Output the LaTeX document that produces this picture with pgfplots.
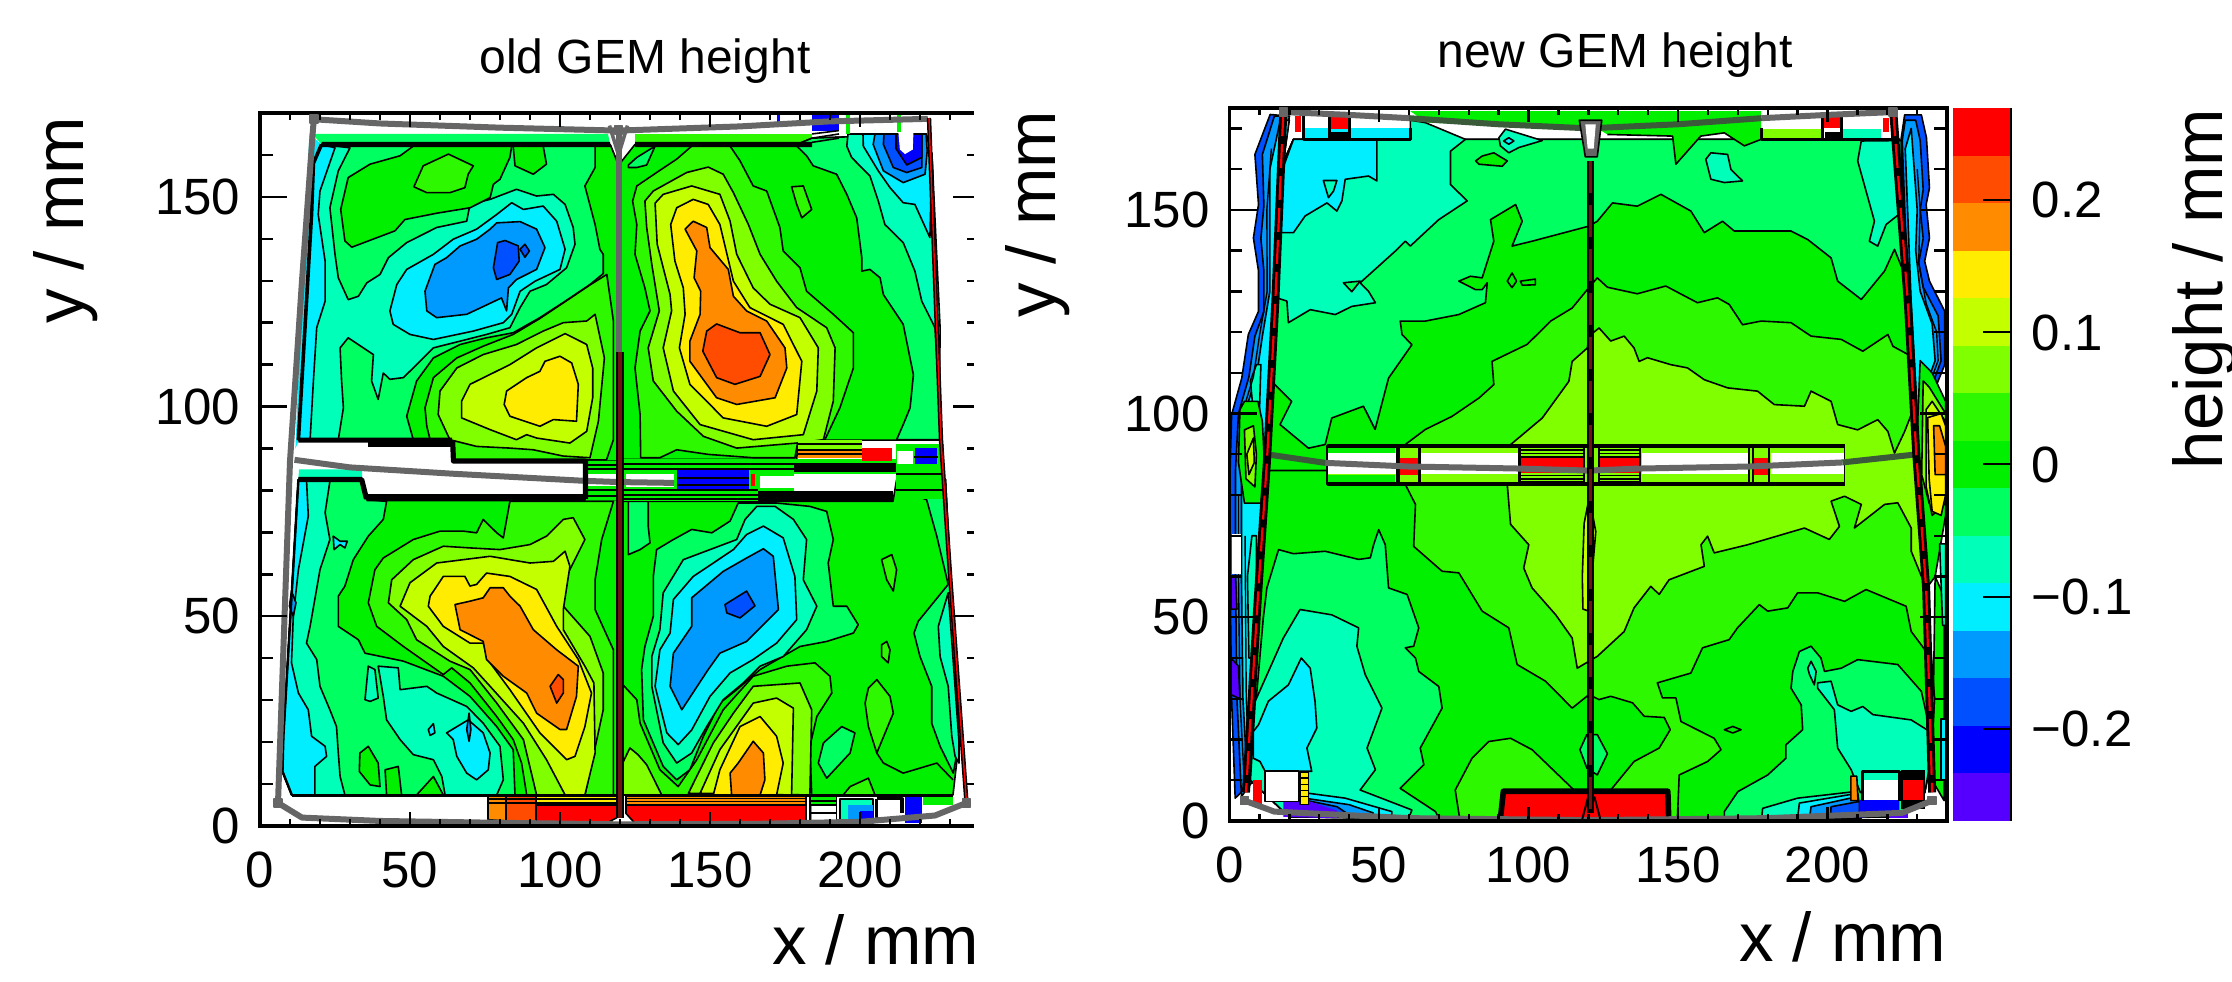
\documentclass[border=0pt]{standalone}
\usepackage{fontspec}
\setmainfont{Liberation Sans}
\usepackage{pgfplots}
\pgfplotsset{compat=1.18}
\definecolor{vi}{HTML}{5500FF}
\definecolor{bb}{HTML}{0000FF}
\definecolor{bc}{HTML}{0050FF}
\definecolor{bd}{HTML}{009AFF}
\definecolor{cy}{HTML}{00EEFF}
\definecolor{aq}{HTML}{00FFB8}
\definecolor{sg}{HTML}{00FF60}
\definecolor{gr}{HTML}{00F000}
\definecolor{lg}{HTML}{2EF800}
\definecolor{li}{HTML}{80FF00}
\definecolor{yg}{HTML}{C4FF00}
\definecolor{ye}{HTML}{FFEC00}
\definecolor{og}{HTML}{FF8C00}
\definecolor{ro}{HTML}{FF4C00}
\definecolor{re}{HTML}{FF0000}
\definecolor{fg}{HTML}{666666}
\definecolor{dr}{HTML}{6A1510}
\definecolor{dg}{HTML}{3A5A3A}
\newcommand\Poly[2]{\addplot[fill=#1,draw=black,line width=.4pt,line join=round] coordinates {#2} --cycle;}
\newcommand\Fil[2]{\addplot[fill=#1,draw=none] coordinates {#2} --cycle;}
\newcommand\Lin[2]{\addplot[#1,line join=round] coordinates {#2};}
\newcommand\fs{\fontsize{12.75}{14}\selectfont}
\newcommand\fl{\fontsize{17.25}{19}\selectfont}
\pgfplotsset{panel/.style={
  scale only axis, anchor=south west, xmin=0, xmax=240, ymin=0,
  axis on top, unbounded coords=jump,
  axis line style={line width=.9pt},
  xtick={0,50,100,150,200}, xticklabels={0,50,100,150,200},
  minor xtick={10,20,30,40,60,70,80,90,110,120,130,140,160,170,180,190,210,220,230},
  minor ytick={10,20,30,40,60,70,80,90,110,120,130,140,160,170},
  ytick={0,50,100,150}, yticklabels={0,50,100,150},
  tick style={black,line width=.6pt},
  x tick style={/pgfplots/major tick length=3.5pt,/pgfplots/minor tick length=1.75pt},
  y tick style={/pgfplots/major tick length=6.75pt,/pgfplots/minor tick length=3.2pt},
  tick label style={font=\fs,inner sep=0pt},
  x tick label style={anchor=north,yshift=-6.25pt},
  y tick label style={anchor=east,xshift=-4.75pt},
  xtick pos=both, ytick pos=both,
}}
\begin{document}
\begin{tikzpicture}[x=0.25pt,y=0.25pt]
\path[use as bounding box] (0,0) rectangle (2232,982);
% ---------------- left panel
\begin{axis}[panel, at={(65pt,39pt)}, width=180pt, height=178.25pt, ymax=170]
\Fil{cy}{(16.5,165)(20.5,162.5)(13,92)(11.8,90)(15,145)}
\Fil{sg}{(17.5,165)(116,165)(116.7,162.5)(20.5,162.5)}
\Fil{aq}{(13,85)(34,85)(34,82.6)(12.8,82.6)}
\Poly{sg}{(20.5,162.5)(116.7,162.5)(119.4,157.8)(119.4,87)(64.4,87)(63.9,92.1)(12.8,92.1)(15.5,125)(17.2,146)(17.8,157.8)}
\Poly{aq}{(30,161.7)(26.1,156.2)(23.3,147.4)(25,136.3)(26.1,130.7)(29.4,125.5)(32.8,126.3)(35.6,129.5)(40,131.5)(42.8,135.5)(48.9,139.1)(58.9,142.7)(68.9,144.2)(70,148.2)(76.7,149.4)(85.5,151.8)(92.2,150.2)(97.8,150.6)(101.7,148.2)(104.4,142.7)(105,138.7)(102.2,133.1)(95.5,129.1)(90,127.5)(86.7,123.6)(83.3,118.8)(75.5,117.2)(66.7,115.6)(57.8,114)(52.2,110)(47.8,106.9)(43.3,106.5)(41.1,108)(39.4,101.7)(37.2,106.1)(37.8,112.4)(29.4,116.4)(26.7,114)(27.2,106.1)(27.8,99.7)(26.1,92.1)(12.8,92.1)(15.5,125)(17.2,146)(17.8,157.8)(20.5,162.5)}
\Poly{cy}{(25,161.7)(20,151.4)(19.4,145.8)(21.7,134.7)(21.7,125.1)(18.9,118.8)(17.8,106.1)(16.7,92.1)(12.8,92.1)(15.5,125)(17.2,146)(17.8,157.8)(20.5,162.5)}
\Poly{gr}{(83.9,162.1)(83.3,159.4)(80,154.2)(77.8,153)(76.7,149.8)(70,147.4)(58.9,146.1)(48.3,144.6)(45,141.9)(30.6,138)(28.3,139.5)(26.9,147)(29.4,154.6)(36.7,157.8)(46.7,159.8)(51.1,162.1)}
\Poly{lg}{(51.3,152.4)(54.4,157.4)(62.8,160.2)(71.1,157.4)(69.4,155.4)(68.3,152.2)(63.3,151)(55.6,151)}
\Poly{gr}{(84.4,162.1)(85,157.4)(91.1,155.4)(95.5,157.8)(94.4,162.1)}
\Poly{gr}{(111.7,162.4)(111.7,157)(108.3,152.6)(111.7,143.4)(113.3,137.5)(114.4,136.3)(114.4,131.7)(110,129.1)(101.7,125.1)(93.3,121.2)(84.4,117.6)(75.5,116.4)(66.7,114.8)(57.8,111.6)(52.2,106.1)(48.9,97.7)(51.1,92.1)(63.9,92.1)(64.4,87)(119.4,87)(119.4,157.8)(116.7,162.5)}
\Poly{lg}{(115.6,131.5)(110,129)(101.7,125)(93.3,121)(84.4,117.2)(74.4,114.4)(65.6,111.6)(57.8,106.9)(55,99.7)(55.6,95.3)(56.7,92.1)(63.9,92.1)(64.4,87.3)(115.5,87.3)(117.8,92.1)(117.8,120.4)}
\Poly{li}{(111.7,122)(108.9,120.4)(101.1,120)(94.4,118)(85.5,114.8)(74.4,112.4)(65.6,109.2)(60,103.7)(59.4,98.1)(63.3,92.1)(72.2,90.5)(83.3,90.1)(91.1,89.7)(101.1,88.2)(110,87.8)(112.8,96.5)(114.8,111.6)}
\Poly{yg}{(101.7,117.4)(92.2,114)(83.3,110)(70,105.3)(67.2,101.3)(67.2,97.3)(76.7,94.5)(85.5,92.1)(88.9,93.3)(92.2,92.5)(103.3,91.3)(108.9,94.1)(110.9,102.1)(110.9,109.2)(108.9,114.8)}
\Poly{ye}{(100,112)(95,110.8)(93.3,108.4)(88.9,106.9)(82.2,103.7)(81.4,100.5)(83.3,97.7)(93.3,95.3)(97.8,96.9)(105.5,96.5)(106.1,105.3)(103.9,110.4)}
\Poly{cy}{(43.3,122.8)(45.6,129.1)(48.9,132.7)(57.8,136.3)(64.4,139.9)(72.2,142.3)(78.9,145.8)(83.9,148.6)(87.8,147)(94.4,147.8)(98.9,144.2)(101.7,137.5)(100,132.7)(91.7,129.9)(86.7,127.5)(83.9,122)(81.1,120)(71.1,118)(57.8,116)(50,117.2)(44.4,119.6)}
\Poly{bd}{(55,127.5)(58.3,133.9)(62.2,135.5)(66.7,138.3)(72.2,139.9)(76.7,142.3)(78.9,143.8)(86.7,144.1)(92.2,142.3)(95,137.9)(92.2,132.7)(85.5,130.3)(82.8,128.3)(82.2,122.8)(80.5,125.9)(68.9,122)(58.9,121.2)(55.6,122.8)}
\Poly{bc}{(79.2,139.1)(81.7,139.6)(86.1,138.3)(86.4,134.7)(83.3,131.5)(78.9,130.3)(77.8,133.1)}
\Poly{bc}{(86.7,137.5)(88.3,138.7)(89.8,137.1)(88.3,135.6)}
% top right quadrant
\Fil{lg}{(125,165)(184,165)(184,162.5)(125,162.5)}
\Poly{gr}{(120,158)(125,162.5)(179,162.5)(184,164)(222,165)(224,160)(227,92)(179.4,92)(178.9,87.4)(120,87.4)}
\Poly{sg}{(122.8,157.6)(125.6,159.4)(131.7,162.1)(128.9,157.6)(125.6,157)(122.8,157)}
\Poly{sg}{(178.9,162.1)(182.2,159.8)(184.4,157.4)(192.2,155.4)(195.6,150.6)(198.9,145)(200.6,135.5)(200.6,132.3)(203.3,132.7)(206.7,130.7)(207.8,126.7)(214.4,119.6)(217.8,107.6)(216.7,99.7)(214.4,95.7)(212.2,92.1)(226.7,92.1)(224,160)(222,165)(184,164)(179,162.5)}
\Poly{aq}{(195.6,162.1)(197.2,159.4)(203.3,155)(206.1,149)(208.3,143.4)(214.4,139.1)(218.3,132.3)(220.6,125.1)(225,118.8)(226.5,100)(226.7,118.8)(224,160)(222,165)(196,165)}
\Poly{cy}{(201.1,162.1)(206.1,156.2)(210,152.2)(214.4,148.6)(218.3,148.2)(223.3,140.3)(224,160)(222,165)(201,165)}
\Poly{bd}{(204.4,162.5)(207.8,156.2)(214.4,153.4)(221.7,155.4)(222.4,161)(222,165)(205,165)}
\Poly{bc}{(207.8,162.5)(211.1,157)(215.6,155.8)(220.6,157)(220.6,165)(208,165)}
\Poly{bb}{(212,161.5)(215.6,157.6)(220.6,159.4)(220.6,165)(212,165)}
\Fil{white}{(212.8,165.3)(213.3,161.3)(215,160.2)(217.6,161.3)(217.8,165.3)}
\Poly{lg}{(177.2,152.4)(181.1,152.6)(183.9,147)(180.6,145)(178.9,148.2)}
\Poly{lg}{(143.9,162.1)(138.9,159)(132.2,155.8)(125.6,152.6)(124.2,149)(125.6,143.4)(125,136.3)(128.3,128.3)(130,122.8)(126.7,118)(125,109.2)(126.7,98.1)(126.9,87.8)(133.3,87.8)(138.9,89.7)(149.4,88.6)(164.4,87.8)(178.3,87.8)(179.4,92.1)(188.3,92.1)(193.3,99.7)(197.8,109.2)(197.8,117.6)(191.1,122)(182.2,127.5)(180,133.1)(174.4,137.1)(173.3,142.7)(168.9,151.4)(164.4,152.6)(160,158.6)(156.7,162.1)}
\Poly{li}{(149.4,157.1)(142.2,155.8)(131.1,151.4)(128.3,149)(128.9,142.7)(130.6,133.9)(133.1,122.8)(129.4,114)(131.1,106.1)(138.9,98.9)(147.8,92.9)(158.9,90.1)(178.9,91.3)(187.8,92.1)(191.1,101.3)(191.7,114)(188.9,118.8)(178.9,123.6)(172.2,129.9)(166.7,136.3)(162.8,143.4)(157.8,151)(154.4,155.4)}
\Poly{yg}{(143.9,152.6)(134.4,150.6)(131.7,148.5)(132.4,138.7)(136.7,126.7)(137.2,122.8)(134.4,114)(137.8,103.7)(146.7,95.7)(164.4,92.1)(181.1,93.3)(185.6,103.7)(186.1,114)(180,121.2)(170,124.4)(164.4,128.3)(158.9,136.3)(156.7,144.2)(153.3,150.6)}
\Poly{ye}{(144.4,149.4)(138.9,147.4)(136.9,143.4)(138.3,134.7)(141.1,128.3)(141.7,122)(139.8,114)(143.3,105.3)(154.4,97.3)(168.9,95.3)(178.9,98.1)(180.6,110.8)(174.4,119.6)(163.3,123.6)(157.8,129.9)(153.3,143.4)(149.4,148.2)}
\Poly{og}{(144.4,144.2)(141.7,142.3)(145.6,137.1)(144.7,130.7)(146.9,127.5)(146.7,122)(143.3,115.6)(143.3,110.8)(152.2,102.1)(158.9,100.5)(171.7,102.1)(175.6,109.2)(175,114)(168.9,120.4)(162.2,122.8)(157.8,126.3)(156.1,132.7)(150,137.9)(148.9,142.7)}
\Poly{ro}{(152.2,119.7)(148.9,118)(147.6,113.2)(152.2,106.9)(158.3,105.3)(166.7,107.2)(170,112.4)(166.7,117.6)(160,117.6)}
% lower left quadrant
\Poly{gr}{(12.8,82.6)(33.9,82.6)(35.5,77.8)(119.4,77.8)(119.4,7.4)(10.6,7.4)(7.5,13)(7.8,21.4)(11.7,69.1)}
\Poly{sg}{(42.2,77.4)(41.1,73.1)(36.1,69.1)(31.1,63.5)(28.3,57.2)(26.1,54.8)(26.1,47.6)(32.8,44.4)(35,41.2)(47.8,39.3)(61.1,35.7)(70,30.9)(78.9,23.7)(84.4,18.2)(85,7.4)(10.6,7.4)(7.5,13)(7.8,21.4)(11.7,69.1)(12.8,82.6)(33.9,82.6)(35.5,77.8)}
\Poly{aq}{(23.3,82.2)(21.7,74.7)(23.3,68.3)(20,61.1)(16.7,47.6)(15.5,43.6)(18.9,39.7)(20,33.3)(23.3,27.7)(25.5,23.7)(26.1,17.4)(26.7,11.8)(28.3,7.4)(10.6,7.4)(7.5,13)(7.8,21.4)(11.7,69.1)(12.8,82.6)}
\Poly{cy}{(15.5,82.6)(16.1,73.9)(12.8,61.1)(11.1,50)(10.5,38.9)(12.8,31.7)(16.1,27.7)(17.2,21.4)(21.7,19)(22.2,16.6)(18.3,14.2)(18.3,7.4)(10.6,7.4)(7.5,13)(7.8,21.4)(11.7,69.1)(12.8,82.6)}
\Poly{bd}{(10.5,56)(12,53.2)(11.1,50)(9.8,52.4)}
\Poly{cy}{(24.4,69.1)(26.7,67.9)(29.1,67.9)(28.3,66.3)(26.7,67.1)(24.7,65.9)}
\Poly{aq}{(39.4,38.1)(46.1,37.7)(46.7,32.5)(55.6,33.3)(58.9,31.7)(68.9,28.5)(74.4,24.5)(80,19)(81.1,11)(78.9,7.4)(61.7,7.4)(60.6,11.8)(57.8,15.8)(51.1,17)(46.7,20.6)(42.2,25.3)(41.1,30.9)}
\Poly{aq}{(35,30.1)(36.1,38.1)(38.3,37.3)(39.4,30.5)(36.7,29.7)}
\Poly{gr}{(52.2,7.4)(57.8,11.8)(61.1,7.4)}
\Poly{gr}{(33.3,17.4)(36.1,19)(39.4,15)(40,9.4)(36.7,9.8)(33.1,13)}
\Poly{gr}{(41.7,13.4)(46.1,14.2)(47.2,7.4)(42.2,7.4)}
\Poly{cy}{(62.2,22.2)(69.4,25.3)(74.4,22.2)(76.7,17.4)(76.1,13.4)(72.2,11)(68.9,12.6)(65.6,16.6)(64.4,20.6)}
\Poly{cy}{(56.1,23)(57.8,24.4)(58.3,22.2)(56.7,21.6)}
\Poly{bd}{(69.7,26.9)(70.3,23)(69.7,20.2)(68.9,23)}
\Poly{lg}{(83.3,77.4)(81.1,68.7)(78.9,69.9)(74.4,73.1)(72.2,69.9)(67.8,70.3)(60,70.3)(51.1,68.3)(41.1,63.9)(38.3,61.1)(36.1,53.2)(38.9,47.6)(47.8,42.8)(61.1,36.1)(63.9,37.7)(70,34.1)(78.9,26.1)(84.4,20.6)(87.2,15)(88.9,7.4)(117.8,7.4)(117.8,42)(111.7,51.6)(111.7,58.7)(113.9,68.3)(117.8,77.4)}
\Poly{li}{(104.4,73.5)(101.1,73.1)(95.5,69.1)(90,67.1)(80,65.9)(70,66.3)(61.1,66.7)(51.1,63.5)(43.9,58.7)(42.8,53.2)(48.9,49.2)(52.2,44.4)(63.3,39.3)(70,37.3)(78.9,29.3)(87.8,20.6)(92.2,7.4)(108.3,7.4)(114.4,27.7)(114.4,36.5)(110,45.2)(101.1,52.4)(101.1,58)(108.3,68.3)}
\Poly{yg}{(101.7,65.5)(97.8,63.1)(90,62.7)(76.7,64.3)(58.9,62.7)(50,58)(46.7,52.4)(55.6,47.6)(61.1,42.8)(71.1,37.7)(76.7,33.3)(87.8,24.5)(95.5,15.8)(101.7,7.4)(108.3,7.4)(111.7,17.4)(111.3,34.1)(108.3,38.1)(101.1,46.8)(101.1,51.6)(103.3,61.9)}
\Poly{ye}{(70,57.2)(68.3,59.5)(61.1,59.5)(56.7,54.8)(56.1,52.4)(61.1,47.6)(70,43.6)(74.4,43.6)(76.7,38.9)(83.3,32.5)(93.3,22.2)(102.2,15.8)(105,16.6)(108.3,23.7)(110.5,31.7)(106.1,39.7)(98.9,47.6)(92.2,56.4)(83.3,59.5)(75.5,60.3)(72.2,57.6)}
\Poly{og}{(65,52.8)(70,53.6)(74.4,54.4)(76.7,56.8)(81.1,56.8)(83.3,54.8)(86.7,52.4)(91.1,46.8)(98.9,42)(106.1,38.1)(105.5,30.9)(102.2,23)(100,23)(92.2,26.9)(88.9,31.7)(81.1,35.7)(75.5,39.7)(74.4,44)(66.7,46.8)}
\Poly{ro}{(99.4,36.1)(96.7,33.3)(98.9,29.3)(101.1,31.7)(101.1,34.9)}
% lower right quadrant
\Poly{gr}{(120,77.4)(211,77.4)(212.2,82.6)(228.5,82.6)(233,20)(231,7.4)(120,7.4)}
\Poly{sg}{(122.8,77.4)(129.4,77.4)(129.4,71.5)(130,67.5)(126.7,65.9)(122.8,64.7)}
\Poly{sg}{(212.2,81.8)(214.4,79.8)(222.2,77.8)(225.6,69.1)(229.4,57.6)(219.4,48.8)(218,46)(220,40.4)(223.9,33.3)(223.9,24.5)(226.7,19)(231.1,12.6)(233,20)(228.5,82.6)}
\Poly{aq}{(229.4,55.6)(226.1,47.6)(226.7,40.4)(229.4,33.3)(230.6,21.4)(231.7,16.6)(233,15)(233,20)(230,50)}
\Poly{sg}{(159.4,77)(156.7,72.7)(150.6,69.9)(143.9,70.7)(137.8,68.3)(132.2,65.9)(131.1,59.5)(131.1,50)(128.3,42.8)(127.2,37.3)(127.8,25.3)(134.4,14.2)(138.9,11)(143.3,13.4)(147.8,21.4)(153.3,29.3)(158.9,32.5)(166.7,37.3)(180,42.8)(188.9,44)(197.8,46)(199.4,48)(195.6,52.4)(191.1,52.4)(189.4,62.7)(191.1,68.3)(188.9,75)(183.3,76.2)(172.2,77)(164.4,77)}
\Poly{aq}{(165.6,76.2)(161.7,73.1)(158.9,68.3)(141.1,63.5)(134.4,55.6)(133.3,46.8)(130.6,40.4)(130.6,33.3)(134.4,19.8)(138.9,15)(143.9,17.4)(148.9,23.7)(154.4,30.1)(161.1,34.1)(166.7,38.1)(174.4,40.4)(182.2,46.8)(185.6,52.4)(181.1,58.7)(182.2,68.3)(177.8,73.1)(171.7,76.2)}
\Poly{cy}{(167.8,71.5)(162.2,69.5)(157.8,65.9)(144.4,59.5)(137.8,54)(136.7,46)(133.3,42)(131.7,33.3)(135.6,22.2)(139.4,19.4)(143.9,22.9)(150,30.9)(156.7,36.5)(164.4,39.7)(172.2,43.6)(178.9,49.2)(178.3,59.5)(174.4,68.7)}
\Poly{bd}{(167.8,66.1)(162.2,63.9)(154.4,60.7)(143.9,54.4)(143.9,47.6)(137.8,41.2)(136.7,33.3)(140.6,27.7)(149.4,37.3)(153.3,41.2)(162.2,44)(172.8,51.6)(171.1,64.3)}
\Poly{bc}{(155,52.8)(162.2,56)(165,52.5)(160,49.6)(155.6,50.8)}
\Poly{lg}{(120.4,34.1)(125.6,30.1)(126.7,24.5)(133.3,13.4)(139.4,9.4)(145.6,15.8)(154.4,27.7)(164.4,35.7)(175.6,38.1)(185,38.9)(190,35.7)(190.6,31.7)(185.6,26.1)(183.3,19)(183.9,7.4)(120,7.4)}
\Poly{li}{(120.2,14)(123.3,18.6)(126,17)(128.9,14.6)(133.9,7.4)(120.2,7.4)}
\Poly{li}{(142.8,7.8)(151.1,19.8)(157.8,26.9)(164.4,33.3)(180,34.1)(183.9,27.7)(183.3,7.4)}
\Poly{yg}{(146.7,7.8)(153.3,18.2)(164.4,29.3)(172.2,30.5)(177.8,28.1)(177.2,7.4)}
\Poly{ye}{(151.1,7.4)(153.3,13.4)(160,23.7)(166.7,26.1)(172.2,21.4)(174.4,15)(172.2,7.4)}
\Poly{og}{(157.2,7.4)(156.7,12.6)(159.4,15)(164.4,20.2)(167.8,17.4)(168.3,11)(166.7,7.4)}
\Poly{lg}{(207.2,63.5)(210.6,64.7)(212.2,61.1)(211.1,56)(208.9,58.7)}
\Poly{lg}{(207.2,43.2)(208.9,44)(210,42)(209.4,38.9)(207.2,40.4)}
\Poly{lg}{(205.6,34.9)(210,30.9)(211.1,26.9)(205.6,17.4)(202.8,23.7)(201.7,29.3)(202.8,32.9)}
\Poly{sg}{(193.9,23.7)(198.3,22.2)(196.7,17.4)(188.9,11.4)(186.1,15)(187.8,19.8)}
\Poly{lg}{(194.4,7.4)(196.7,9.4)(202.8,11.4)(205,7.4)}
\Lin{black,line width=.4pt}{(205.6,17.4)(207.8,15)(214.4,12.6)(225.6,15)(231,11)}
% strips along the bottom of the old foil
\Poly{og}{(76,7.4)(76,1.5)(82,1.2)(82,7.4)}
\Poly{ro}{(82,7.4)(82,1)(92,.8)(92,7.4)}
\Poly{re}{(92,5)(92,.6)(115,.5)(119,2)(119,5)}
\Poly{ye}{(92,7.4)(119,7.4)(119,5)(92,5)}
\Poly{re}{(122,5)(182,5)(182,.6)(125,.6)(122,3)}
\Poly{og}{(122,7.4)(182,7.4)(182,5)(122,5)}
\Lin{black,line width=.4pt}{(76,6.4)(119,6.4)(nan,nan)(76,5.5)(119,5.5)(nan,nan)(122,6.6)(182,6.6)(nan,nan)(122,5.8)(182,5.8)}
\Poly{gr}{(183.3,7.2)(192.2,7.2)(192.2,.7)(183.3,.7)}
\Fil{white}{(184,5)(192,5)(192,.9)(184,.9)}
\Lin{black,line width=.5pt}{(183.3,6)(192.2,6)(nan,nan)(183.3,5)(192.2,5)(nan,nan)(183.3,3)(192.2,3)}
\Poly{aq}{(193.3,6.4)(204.4,6.4)(204.4,.7)(193.3,.7)}
\Fil{bd}{(196,5)(204.4,5)(204.4,.7)(196,.7)}
\Fil{bb}{(200,3.5)(204.4,3.5)(204.4,.7)(200,.7)}
\Fil{white}{(206,5)(214,5)(214,.8)(206,.8)}
\Lin{black,line width=.8pt}{(205.5,6.5)(214,6.5)(214,3)(nan,nan)(205.5,6.5)(205.5,1)}
\Fil{bb}{(215,7)(220.5,7)(220.5,.8)(215,.8)}
\Fil{gr}{(221,7)(231,7)(231,5)(221,5)}
\Lin{black,line width=.8pt}{(10.6,7.2)(119,7.2)(nan,nan)(122,7.2)(231,7.2)}
% middle band
\Fil{gr}{(108.5,77.8)(120,77.8)(120,87)(108.5,87)}
\Fil{white}{(108.5,81)(119,81)(119,84)(108.5,84)}
\Fil{gr}{(120,77.4)(178,77.4)(178,87.4)(120,87.4)}
\Fil{white}{(122,80.8)(138,80.8)(138,84)(122,84)}
\Fil{bb}{(138.9,79.8)(163,79.8)(163,85)(138.9,85)}
\Fil{white}{(166.7,80.6)(191,80.6)(191,83.4)(166.7,83.4)}
\Fil{white}{(192.8,80.2)(210,80.2)(210,83.8)(192.8,83.8)}
\Fil{re}{(163.6,81)(165,81)(165,84)(163.6,84)}
\Fil{gr}{(178,84)(212,84)(212,87.4)(178,87.4)}
\Fil{black}{(166,77.5)(211,77.5)(211,79.8)(166,79.8)}
\Fil{black}{(178,84.4)(212,84.4)(212,86.6)(178,86.6)}
\Fil{gr}{(212,78)(228,78)(228,91)(212,91)}
\Fil{bb}{(218.3,90.1)(225.6,90.1)(225.6,86.2)(218.3,86.2)}
\Fil{white}{(212.2,89.3)(217.8,89.3)(217.8,86.2)(212.2,86.2)}
\Fil{li}{(179.4,92)(200.6,92)(200.6,90)(179.4,90)}
\Fil{og}{(179.4,90)(200.6,90)(200.6,87.8)(179.4,87.8)}
\Fil{re}{(200.6,90.1)(210.6,90.1)(210.6,87)(200.6,87)}
\Lin{black,line width=.5pt}{(108.5,78.6)(119,78.6)(nan,nan)(108.5,80)(119,80)(nan,nan)(108.5,85)(119,85)(nan,nan)(108.5,86)(119,86)(nan,nan)(121,78)(166,78)(nan,nan)(121,79)(166,79)(nan,nan)(121,80)(166,80)(nan,nan)(121,85.2)(178,85.2)(nan,nan)(121,86.2)(178,86.2)(nan,nan)(139,81.4)(163,81.4)(nan,nan)(139,83)(163,83)(nan,nan)(179.4,91)(200.6,91)(nan,nan)(179.4,89.6)(200.6,89.6)(nan,nan)(179.4,88.6)(200.6,88.6)(nan,nan)(212,84)(228,84)(nan,nan)(212,80)(228,80)(nan,nan)(218,88)(226,88)}
\Lin{fg,line width=1.5pt}{(11.5,87.3)(30,85.5)(64,84)(108,82.3)(119.5,82)(138,81.8)}
\Lin{black,line width=1.3pt}{(12.8,92)(64,92)(nan,nan)(35.5,78)(108.5,78)(nan,nan)(64.2,92)(64.5,87)(108.5,87)(108.5,78)(nan,nan)(12.8,82.6)(33.9,82.6)(35.5,78)(nan,nan)(20.5,162.5)(116.7,162.5)(nan,nan)(125,162.5)(184,162.5)}
\Lin{black,line width=1.8pt}{(36,91.3)(63.5,91.3)(nan,nan)(36,78.4)(108,78.4)}
\Lin{black,line width=.9pt}{(12.8,92)(15.5,125)(17.2,146)(17.8,158)(20.5,162.5)}
\Lin{black,line width=.6pt}{(12.8,82.6)(11.7,69.1)(7.8,21.4)(7.5,13)(10.6,7.4)}
% top details
\Fil{bb}{(184,165.7)(193,165.7)(193,169.7)(184,169.7)}
\Lin{bb,line width=.7pt}{(172.8,167.7)(172.8,169.7)}
\Lin{gr,line width=1pt}{(196,165)(196,169.7)(nan,nan)(213,165.5)(213,169.7)}
\Lin{black,line width=.4pt}{(184,163)(193,164)(nan,nan)(184,164)(193,165)(nan,nan)(184,165)(193,165.8)}
% frame
\Lin{fg,line width=1.5pt}{(18,168.5)(40,167.5)(80,166.5)(119.5,165.8)(160,166.8)(190,168)(222.6,168.6)}
\Lin{fg,line width=1.5pt}{(18,168.5)(17.7,166.5)(14,130)(10,87)(6,5.5)}
\Lin{fg,line width=1.5pt}{(6,5.5)(14,2)(40,1.2)(76,.8)(119,.4)(165,.5)(200,1)(225,2.5)(235.5,5.5)}
\Lin{black,line width=1.1pt}{(223,168.8)(227,92)(230,60)(235.5,5.5)}
\Lin{re,line width=.35pt}{(223,168.8)(227,92)(230,60)(235.5,5.5)}
\Lin{fg,line width=1.5pt}{(119.5,165)(119.5,113)}
\Lin{black,line width=1.9pt}{(120,113)(120,2)}
\Lin{dr,line width=1.1pt}{(120,113)(120,2)}
\Lin{fg,line width=.9pt}{(116.5,167)(119.5,160)(122.5,167)}
\Lin{fg,mark=square*,mark size=1pt,only marks}{(18,168.5)(6,5.5)(235.5,5.5)(119.5,166)}
\end{axis}
\node[font=\fl,anchor=base east,inner sep=0pt] at (980,982-965) {x / mm};
\node[font=\fl,rotate=90,anchor=base east,inner sep=0pt] at (83,982-116) {y / mm};
\node[font=\fontsize{12}{14}\selectfont,anchor=base,inner sep=0pt] at (645,982-74) {old GEM height};
\fill[white] (974,0) rectangle (1011,982);
% ---------------- right panel
\begin{axis}[panel, at={(307.375pt,40.25pt)}, width=179.4pt, height=178.25pt, ymax=175]
\Poly{bc}{(13.6,173.4)(8.5,163.6)(9.7,151.3)(8,143.1)(9.7,135)(9.7,125.1)(6.3,119.4)(4.1,108.7)(.7,99.7)(.2,86)(.2,60)(.7,30)(1.9,5.6)(8,10)(9.7,54.7)(12.5,87.5)(15.3,126.8)(18,161.6)(20,173)}
\Poly{bd}{(15,173)(11,163.6)(11.5,151)(10.5,143)(11.5,135)(11.5,125)(8.5,119)(6.5,109)(3,100)(2,86)(2,60)(2.5,30)(4,6)(8,10)(9.7,54.7)(12.5,87.5)(15.3,126.8)(18,161.6)(20,173)}
\Poly{cy}{(17,172)(13.5,160)(13.5,130)(11,119)(9,109)(5,100)(4,90)(4,60)(4.5,30)(6,10)(8,10)(9.7,54.7)(12.5,87.5)(15.3,126.8)(18,161.6)(20,172)}
\Poly{aq}{(6,60)(7.5,70)(9,70)(9,40)(6.5,40)}
\Poly{aq}{(7,108)(9,112)(10.5,112)(10,100)(8,100)}
\Lin{black,line width=.35pt}{(14,165)(12.5,150)(12.6,130)(10,119)(8,109)(4.2,100)(nan,nan)(3,80)(3,60)(3.5,30)(5,9)(nan,nan)(5.2,70)(5.4,50)(5.6,30)(6.6,12)}
\Fil{white}{(.7,70.5)(4,70.5)(4,60.5)(.7,60.5)}
\Poly{vi}{(.5,60)(2,60)(2.5,52)(.5,52)}
\Poly{vi}{(.5,40)(3,38)(3.5,30)(.5,31)}
\Poly{gr}{(3.5,101)(5,103)(9.5,103)(11,98)(11.8,86)(10.5,78)(5,78)(3,88)}
\Poly{li}{(5,96)(8,97)(9,90)(8.5,82)(5.5,84)}
\Poly{yg}{(5.8,90)(8,94)(8.3,88)(6.5,85)}
\Poly{bc}{(225.8,173.3)(231.4,173.3)(233.1,167.7)(234.1,155.4)(233,151.3)(234.1,143.1)(232.5,137.4)(234.1,132.5)(239.2,125.1)(239.2,112)(237,108)(230,95)(226.9,126.8)(224.6,167.3)}
\Poly{bd}{(226,172)(229.5,172)(231,167)(232,155)(231,150)(232,143)(230.5,137)(232,131)(237,124)(238,113)(236,109)(230,97)(227,127)(225,167)}
\Poly{cy}{(228,170)(229,160)(230,150)(229.5,140)(231,130)(235,122)(236,113)(234,109)(230,100)(228,127)(226,165)}
\Lin{black,line width=.35pt}{(230,160)(231,150)(230.5,137)(233,127)(236.5,120)(237,113)(235,109)}
\Poly{gr}{(231,113)(235,110)(239.5,103)(239.5,75)(236,60)(233,57)(231,80)(230,95)}
\Poly{li}{(232,108)(234,106.5)(239.5,100)(239.5,80)(236,76)(234,78)(231.5,85)}
\Poly{yg}{(233,101)(235,103)(239.5,98)(239.5,78)(235,75)(233,82)}
\Poly{ye}{(233.5,99)(238,100)(239.5,97)(239.5,80)(238,75)(235,76)(234,84)}
\Poly{og}{(235.5,97)(237.5,97)(239.5,92)(239.5,85)(236,85)}
\Poly{gr}{(236,60)(239,55)(239,5)(235,10)}
\Poly{aq}{(237.5,68)(239.5,68)(239.5,48)(238.5,48)}
\Poly{cy}{(238,25)(239.5,25)(239.5,10)(238,10)}
% interior
\Fil{li}{(21.4,167.3)(224.1,167.3)(226.9,126.8)(229.7,89.9)(233,57.2)(235.8,30.2)(234.7,15.4)(232.5,7)(225,1)(120,.3)(20,1)(7,10)(8,22)(9.7,54.7)(12.5,87.5)(15.3,126.8)(18,161.6)}
\Poly{lg}{(93.4,92)(104.6,98.9)(113.5,107.9)(114.6,112.8)(119.7,116.1)(120.2,119)(123.6,121)(127.5,117.8)(132,119)(135.3,116.1)(137,112.8)(139.8,113.7)(147.6,112)(153.2,111.2)(158.8,108.3)(166.6,106.3)(176.6,105.5)(182.2,102.2)(192.3,101.8)(194.5,105.5)(201.2,103)(203.4,97.3)(210.1,96)(216.8,98.5)(220.2,95.6)(222.4,90.3)(225.8,95.6)(229.1,101.8)(226.9,126.8)(224.1,167.3)(21.4,167.3)(18,161.6)(15.3,126.8)(12.5,86)(93.4,86)}
\Poly{gr}{(58.8,92.4)(65.5,96.1)(74.4,99.3)(83.4,103.8)(88.4,107.1)(87.8,112.8)(99.6,117)(107.4,122.7)(114.6,125.9)(120.2,130.9)(123,133.3)(126.4,131)(136.4,129.4)(145.9,131.3)(156.5,127.2)(163.2,128.4)(167.1,126.8)(171.6,121.8)(177.8,122.7)(187.8,122.3)(194.5,119)(204.6,118.2)(211.8,115.3)(220.2,119.4)(221.9,116.5)(226.9,114.5)(226.9,126.8)(224.1,167.3)(21.4,167.3)(18,161.6)(15.3,126.8)(12.5,86)(58.8,86)}
\Poly{sg}{(15.2,107.1)(20.8,103)(16.9,97.3)(26.4,91.5)(32,92.4)(34.2,98.9)(44.8,101.8)(48.7,96.1)(53.2,108.7)(61,116.9)(57.7,119.4)(57.1,122.7)(65.5,122.7)(76.7,124.3)(85.6,127.2)(86.2,132.1)(84.5,130.4)(82.3,130.4)(76.7,132.5)(80.6,133.7)(84.5,133.3)(88.4,142.3)(87.3,147.6)(95.7,151.3)(97.9,147.2)(94.5,141.1)(101.2,142.3)(120.2,146)(123,147.2)(128.1,151.7)(136.4,150.9)(144.3,153.8)(154.3,149.7)(158.8,144.4)(164.9,147.2)(168.8,144.8)(187.8,144.8)(193.4,142.7)(201.2,138.2)(203.4,132.5)(211.3,128)(219.1,135)(222.4,140.3)(225.8,134.1)(226,130)(224.1,167.3)(21.4,167.3)(18,161.6)(15.3,126.8)(14,107)}
\Fil{gr}{(60.5,174.2)(177.8,174.2)(177.8,167.3)(172.2,165.7)(165.5,168.9)(157.6,168.1)(149.3,161.2)(148.2,168.1)(126.4,168.5)(123,170)(66,171.4)}
\Lin{black,line width=.4pt}{(177.8,167.3)(172.2,165.7)(165.5,168.9)(157.6,168.1)(149.3,161.2)(148.2,168.1)(126.4,168.5)}
\Poly{aq}{(65.5,171.4)(78.9,167.3)(73.9,164.4)(73.9,156.2)(79.5,152.2)(70,147.6)(62.2,142.3)(60.5,141.1)(58.8,142.3)(55.5,139.9)(43.7,132.1)(46.5,130)(48.8,127.2)(40.9,126.3)(35.4,124.3)(27,125.5)(19.7,122.3)(19.2,127.6)(15.8,128.4)(18,161.6)(21.4,167.3)(60.5,167.3)(60.5,172)}
\Poly{aq}{(211.3,166.9)(210.1,162)(212.9,154.6)(215.7,147.2)(214,142.3)(216.8,141.1)(219.6,146.4)(224.6,149.3)(224.6,167)}
\Poly{aq}{(159.3,162.4)(161,164)(166.6,163.6)(167.7,159.9)(171.6,157.1)(165.5,156.7)(161,157.5)}
\Poly{aq}{(90.1,167.7)(92.3,169.8)(104.6,167)(96.8,165.3)(93.4,164)(90.6,165.7)}
\Poly{cy}{(91.7,166.9)(93.4,167.7)(95.1,166.9)(93.4,166.1)}
\Poly{gr}{(82.3,162)(84.5,163.2)(88.4,164)(92.9,162)(91.2,160.7)(83.4,161.2)}
\Poly{cy}{(21.4,167.3)(49.3,167.3)(49.3,157.1)(46.5,158.3)(38.7,157.5)(37.6,152.2)(35.9,149.7)(32.6,151.7)(25.3,148.5)(21.4,144.4)(16.9,144.4)(17.5,159.5)}
\Poly{aq}{(31.4,157.2)(35.9,157.2)(34.8,154.6)(33.1,153)}
\Poly{sg}{(38.1,132.1)(43.7,132.5)(40.9,129.9)}
\Poly{gr}{(92.9,132.5)(94.5,134.5)(96,132.5)(94.5,130.9)}
\Poly{gr}{(97.3,132.5)(102.3,133)(102.3,131.6)(97.9,131.5)}
\Poly{lg}{(92.9,82.6)(94,72.8)(100.1,67.8)(98.4,62.1)(101.2,57.2)(109.1,50.6)(114.6,44.9)(116.3,37.5)(120.2,39.2)(123,40.4)(132,46.5)(135.3,52.3)(140.9,57.6)(143.7,55.6)(147,59.2)(158.8,62.5)(157.7,67.8)(159.9,69.9)(162.1,65.8)(173.3,67.8)(192.3,71.9)(200.6,69.1)(204,72.3)(201.2,78.5)(205.7,79.7)(211.3,77.7)(209,71.9)(219.1,77.7)(223.5,78.1)(228,71.9)(228,66.2)(233,57.2)(235.8,30.2)(234.7,15.4)(232.5,7)(225,1)(120,.3)(20,1)(7,10)(8,22)(9.7,54.7)(12.5,86)(92.9,86)}
\Poly{gr}{(58.8,82.6)(62.2,77.7)(61.6,67.4)(71.1,61.3)(76.7,60.9)(84.5,51.5)(93.4,47.4)(96.2,38.4)(105.7,34.3)(114.6,27.7)(120.2,31)(123.6,29.8)(127.5,30.6)(134.8,29)(138.7,25.7)(145.4,25.4)(147.4,22.4)(143.7,17.9)(135.3,14.6)(127.5,7.6)(120,7)(120,.3)(20,1)(7,10)(8,22)(9.7,54.7)(12.5,86)(58.8,86)}
\Poly{gr}{(177.2,53.1)(169.9,47.4)(167.1,44.5)(158.2,42.5)(154.3,36.3)(143.1,33.9)(144.8,30.2)(149.3,30.2)(151,24.4)(162.1,20.3)(164.4,17.5)(159.9,14.6)(150.4,11.3)(149.8,.7)(225,1)(232.5,7)(234.7,15.4)(235.8,30.2)(233,41.6)(228,46.5)(226.3,52.7)(212.9,56.8)(205.7,53.9)(196.7,56)(190,56)(186.7,52.3)(180,51.5)}
\Poly{lg}{(75.5,7.6)(81.1,15.4)(86.7,19.5)(94,20.3)(101.2,17.5)(115.2,7.6)(115,.5)(77,.5)}
\Poly{sg}{(16.4,66.6)(21.4,65.6)(32,66.2)(43.2,64.2)(47.1,64.6)(48.2,67.8)(49.9,71.5)(52.1,67.8)(53.2,57.2)(59.4,55.6)(63.3,47.4)(61.6,42.9)(58.8,42.5)(62.2,40)(63.3,36.7)(70,33)(71.1,27.7)(63.8,17.9)(65,13.8)(57.1,8)(68.9,2.3)(70,.7)(20,1)(7,10)(8,22)(11.3,49.8)(12.5,57.2)}
\Poly{aq}{(23.6,51.9)(34.2,50.6)(43.2,47.4)(42.6,42.9)(45.4,35.9)(51,27.7)(46,17.9)(48.8,12.6)(43.7,7.6)(61,2.7)(60,.8)(20,1)(7,10)(8,22)(8.6,29.4)(18,44.9)}
\Poly{cy}{(24,40)(27,37.5)(28.6,29.4)(29.2,22.8)(25.9,17.9)(27.5,12.2)(25.3,12.2)(11.9,12.2)(10.2,14.6)(8,15.4)(8,22)(9.7,23.6)(13,29.4)(19.7,33.4)}
\Poly{cy}{(26.4,6.8)(38.7,5.6)(54.3,2.3)(54.3,.7)(25,1)(25,6.8)}
\Poly{bd}{(26,5.5)(40,4)(48,2)(48,.8)(26,1)}
\Poly{bc}{(26,5)(36,3.5)(41,1)(26,1)}
\Fil{vi}{(18,5)(26,5)(36,2.5)(36,.7)(18,1)}
\Poly{sg}{(194.5,42.9)(190.6,41.6)(188.4,36.7)(187.8,32.6)(191.2,28.5)(191.7,22.4)(186.1,18.7)(186.1,15.4)(180,11.3)(170,7.2)(165.5,2.3)(165.5,.7)(225,1)(232.5,7)(234.7,15.4)(234.1,22.8)(231.4,31.8)(223.5,38.4)(210.1,39.6)(204.6,37.5)(199,36.7)(197.8,40)}
\Poly{aq}{(196.7,33.9)(201.2,34.3)(203.4,28.5)(207.9,26.9)(211.8,28.1)(215.2,26.1)(228,24.8)(234.1,22)(234.7,15.4)(232.5,7)(211,7)(207.9,12.6)(203.4,17.9)(202.3,27.3)(196.7,32.6)}
\Poly{aq}{(193.4,37.5)(194.5,39.2)(196.2,36.7)(195.6,33.4)(194,35.9)}
\Poly{gr}{(165.5,22.4)(168.3,23.2)(171.1,22.4)(168.3,21.6)}
\Poly{sg}{(117.2,17.5)(119.5,21.2)(123,21.2)(126.4,16.5)(123,11.3)(119.5,13)}
\Poly{yg}{(120.2,79)(118.6,73)(118,60)(118.2,52)(120.2,51.5)(122.5,71)(121.5,75)}
\Poly{aq}{(178.3,3.1)(190,5.6)(209,7.2)(210.1,.7)(178,.7)}
\Poly{cy}{(190.6,4.4)(210.1,6.8)(211.3,.7)(190,.7)}
\Poly{bd}{(194.5,3.5)(210.1,6)(211,.8)(194,.8)}
\Poly{bc}{(201.2,3.5)(210.7,4.8)(210.7,.7)(201,.7)}
\Fil{bb}{(210.7,5.2)(224,5.2)(224,1.9)(210.7,.8)}
\Fil{vi}{(220.7,2.3)(226.9,2.3)(226.9,.7)(220.7,.7)}
% boxes, bottom
\Poly{white}{(11.9,12.2)(23.1,12.2)(23.1,4.8)(11.9,4.8)}
\Fil{re}{(8,10)(10.8,10)(10.8,4)(8,4)}
\Poly{ye}{(23.6,12)(26.4,12)(26.4,4)(23.6,4)}
\Lin{black,line width=.4pt}{(23.6,10.5)(26.4,10.5)(nan,nan)(23.6,9)(26.4,9)(nan,nan)(23.6,7.5)(26.4,7.5)(nan,nan)(23.6,6)(26.4,6)}
\Fil{aq}{(211.8,12.2)(224,12.2)(224,10)(211.8,10)}
\Fil{white}{(211.8,10)(224,10)(224,5.2)(211.8,5.2)}
\Lin{black,line width=.7pt}{(211.8,5)(211.8,12.2)(224,12.2)(224,5)}
\Poly{og}{(207.8,11)(209.8,11)(210.2,5)(207.8,5)}
\Fil{black}{(224.5,12.5)(232.5,12.5)(232.5,3)(224.5,3)}
\Fil{re}{(225.2,10.1)(231.9,10.1)(231.9,5.2)(225.2,5.2)}
\Poly{re}{(91.6,7.6)(146.6,7.6)(146.6,.4)(91,.4)}
\Lin{black,line width=1.4pt}{(90.6,.5)(91.6,7.3)(146.6,7.3)(146.9,.5)}
% boxes, middle
\Poly{li}{(32.6,92)(56,92)(56,82.6)(32.6,82.6)}
\Poly{li}{(56.6,92)(63.3,92)(63.3,82.6)(56.6,82.6)}
\Poly{li}{(63.8,92)(96.8,92)(96.8,82.6)(63.8,82.6)}
\Poly{li}{(97.3,92)(118.5,92)(118.5,82.6)(97.3,82.6)}
\Poly{li}{(123.6,92)(137.3,92)(137.3,82.6)(123.6,82.6)}
\Poly{li}{(137.5,92)(173.8,92)(173.8,82.6)(137.5,82.6)}
\Poly{li}{(175,92)(180.5,92)(180.5,82.6)(175,82.6)}
\Poly{li}{(180.5,92)(205.7,92)(205.7,82.6)(180.5,82.6)}
\Fil{gr}{(33,91.7)(55.5,91.7)(55.5,90.3)(33,90.3)}
\Fil{gr}{(33,85)(55.5,85)(55.5,83)(33,83)}
\Fil{white}{(33,90.3)(55.7,90.3)(55.7,85.2)(33,85.2)}
\Fil{white}{(64,90.3)(96.5,90.3)(96.5,85.2)(64,85.2)}
\Fil{white}{(138,90.3)(173.5,90.3)(173.5,85.2)(138,85.2)}
\Fil{white}{(181,90.3)(205.4,90.3)(205.4,85.2)(181,85.2)}
\Fil{re}{(56.9,89)(63,89)(63,85)(56.9,85)}
\Fil{re}{(175.3,89)(180.2,89)(180.2,85)(175.3,85)}
\Fil{re}{(97.6,89)(118.2,89)(118.2,85.4)(97.6,85.4)}
\Fil{re}{(123.9,89)(137,89)(137,85.4)(123.9,85.4)}
\Lin{black,line width=.4pt}{(97.3,91)(118.5,91)(nan,nan)(97.3,90.2)(118.5,90.2)(nan,nan)(97.3,89.4)(118.5,89.4)(nan,nan)(97.3,84.8)(118.5,84.8)(nan,nan)(97.3,84)(118.5,84)(nan,nan)(97.3,83.3)(118.5,83.3)(nan,nan)(123.6,91)(137.3,91)(nan,nan)(123.6,90.2)(137.3,90.2)(nan,nan)(123.6,89.4)(137.3,89.4)(nan,nan)(123.6,84.8)(137.3,84.8)(nan,nan)(123.6,84)(137.3,84)(nan,nan)(123.6,83.3)(137.3,83.3)}
\Lin{black,line width=1pt}{(32.6,92)(205.7,92)(nan,nan)(32.6,82.6)(205.7,82.6)}
\Lin{fg,line width=1.5pt}{(32,87.9)(60,87)(97,86.5)(120,86)(137,86.5)(174,87)(205,88)}
\Lin{dg,line width=1.5pt}{(12.5,90)(32,87.9)(nan,nan)(205,88)(230,90)}
% boxes, top
\Fil{cy}{(24.2,170.2)(60.5,170.2)(60.5,167.3)(24.2,167.3)}
\Fil{re}{(33.7,174)(39.8,174)(39.8,169.8)(33.7,169.8)}
\Fil{black}{(34,169)(39.5,169)(39.5,167)(34,167)}
\Fil{re}{(22,173)(24,173)(24,169)(22,169)}
\Fil{li}{(177.8,169.8)(198.4,169.8)(198.4,167.3)(177.8,167.3)}
\Fil{re}{(198.4,174)(204.6,174)(204.6,170)(198.4,170)}
\Fil{black}{(199,169)(204.3,169)(204.3,167)(199,167)}
\Fil{aq}{(204.6,169.8)(218,169.8)(218,167.3)(204.6,167.3)}
\Fil{re}{(218.5,172.5)(220.5,172.5)(220.5,169)(218.5,169)}
\Lin{black,line width=.8pt}{(24.7,174)(24.7,167.3)(60.5,167.3)(60.5,170)(nan,nan)(33.5,174)(33.5,167.3)(nan,nan)(40,174)(40,167.3)(nan,nan)(177.8,170)(177.8,167.3)(224,167.3)(nan,nan)(198.4,174)(198.4,167.3)(nan,nan)(204.6,174)(204.6,167.3)}
\Lin{dg,line width=1.5pt}{(60,172.5)(90,171)(120,170)(150,171)(178,172.5)}
\Lin{fg,line width=1.5pt}{(18,174)(40,173.3)(60,172.5)(nan,nan)(178,172.5)(200,173.3)(222,174)}
\Lin{fg,line width=1.5pt}{(5,5)(15,2.3)(60,.7)(120,.2)(180,.7)(225,2)(235,5)}
% frames
\Lin{black,line width=2pt}{(18,174)(15.3,127)(12.5,88)(9.5,55)(5.5,7)}
\Lin{black,line width=2pt}{(222,174)(226.9,127)(229.7,90)(233,57)(235,7)}
\Lin{re,line width=.55pt,dash pattern=on 6pt off 2pt}{(18,174)(15.3,127)(12.5,88)(9.5,55)(5.5,7)}
\Lin{re,line width=.55pt,dash pattern=on 6pt off 2pt}{(222,174)(226.9,127)(229.7,90)(233,57)(235,7)}
\Lin{black,line width=1.6pt}{(120.8,162)(120.8,2)}
\Lin{dr,line width=.6pt,dash pattern=on 8pt off 3pt}{(120.8,162)(120.8,2)}
\Lin{black,line width=.5pt}{(118,.5)(120,6)(nan,nan)(124,.5)(122,6)}
\Poly{fg}{(117,172)(124.5,172)(123,163)(119,163)}
\Fil{white}{(119,171)(122.5,171)(121.8,165)(119.8,165)}
\Lin{fg,mark=square*,mark size=1pt,only marks}{(5,5)(235,5)(18,174)(222,174)}
\end{axis}
\node[font=\fl,anchor=base east,inner sep=0pt] at (1947,982-962) {x / mm};
\node[font=\fl,rotate=90,anchor=base east,inner sep=0pt] at (1055,982-110) {y / mm};
\node[font=\fontsize{12}{14}\selectfont,anchor=base,inner sep=0pt] at (1615,982-68) {new GEM height};
% ---------------- colour scale
\begin{axis}[scale only axis, anchor=south west, at={(488.25pt,40.25pt)}, width=14.5pt, height=178.25pt,
  xmin=0, xmax=1, ymin=-.27, ymax=.27, axis x line=none, axis y line*=right, axis on top,
  axis line style={line width=.5pt,-},
  ytick={-.2,-.1,0,.1,.2}, yticklabels={−0.2,−0.1,0,0.1,0.2},
  tick style={black,line width=.5pt}, major tick length=7pt, tick align=inside,
  y tick label style={font=\fs,anchor=west,inner sep=0pt,xshift=5pt}]
\Fil{vi}{(0,-.27)(1,-.27)(1,-.234)(0,-.234)}
\Fil{bb}{(0,-.234)(1,-.234)(1,-.198)(0,-.198)}
\Fil{bc}{(0,-.198)(1,-.198)(1,-.162)(0,-.162)}
\Fil{bd}{(0,-.162)(1,-.162)(1,-.126)(0,-.126)}
\Fil{cy}{(0,-.126)(1,-.126)(1,-.09)(0,-.09)}
\Fil{aq}{(0,-.09)(1,-.09)(1,-.054)(0,-.054)}
\Fil{sg}{(0,-.054)(1,-.054)(1,-.018)(0,-.018)}
\Fil{gr}{(0,-.018)(1,-.018)(1,.018)(0,.018)}
\Fil{lg}{(0,.018)(1,.018)(1,.054)(0,.054)}
\Fil{li}{(0,.054)(1,.054)(1,.09)(0,.09)}
\Fil{yg}{(0,.09)(1,.09)(1,.126)(0,.126)}
\Fil{ye}{(0,.126)(1,.126)(1,.162)(0,.162)}
\Fil{og}{(0,.162)(1,.162)(1,.198)(0,.198)}
\Fil{ro}{(0,.198)(1,.198)(1,.234)(0,.234)}
\Fil{re}{(0,.234)(1,.234)(1,.27)(0,.27)}
\end{axis}
\node[font=\fl,rotate=90,anchor=base east,inner sep=0pt] at (2222,982-108) {height / mm};
\end{tikzpicture}
\end{document}
